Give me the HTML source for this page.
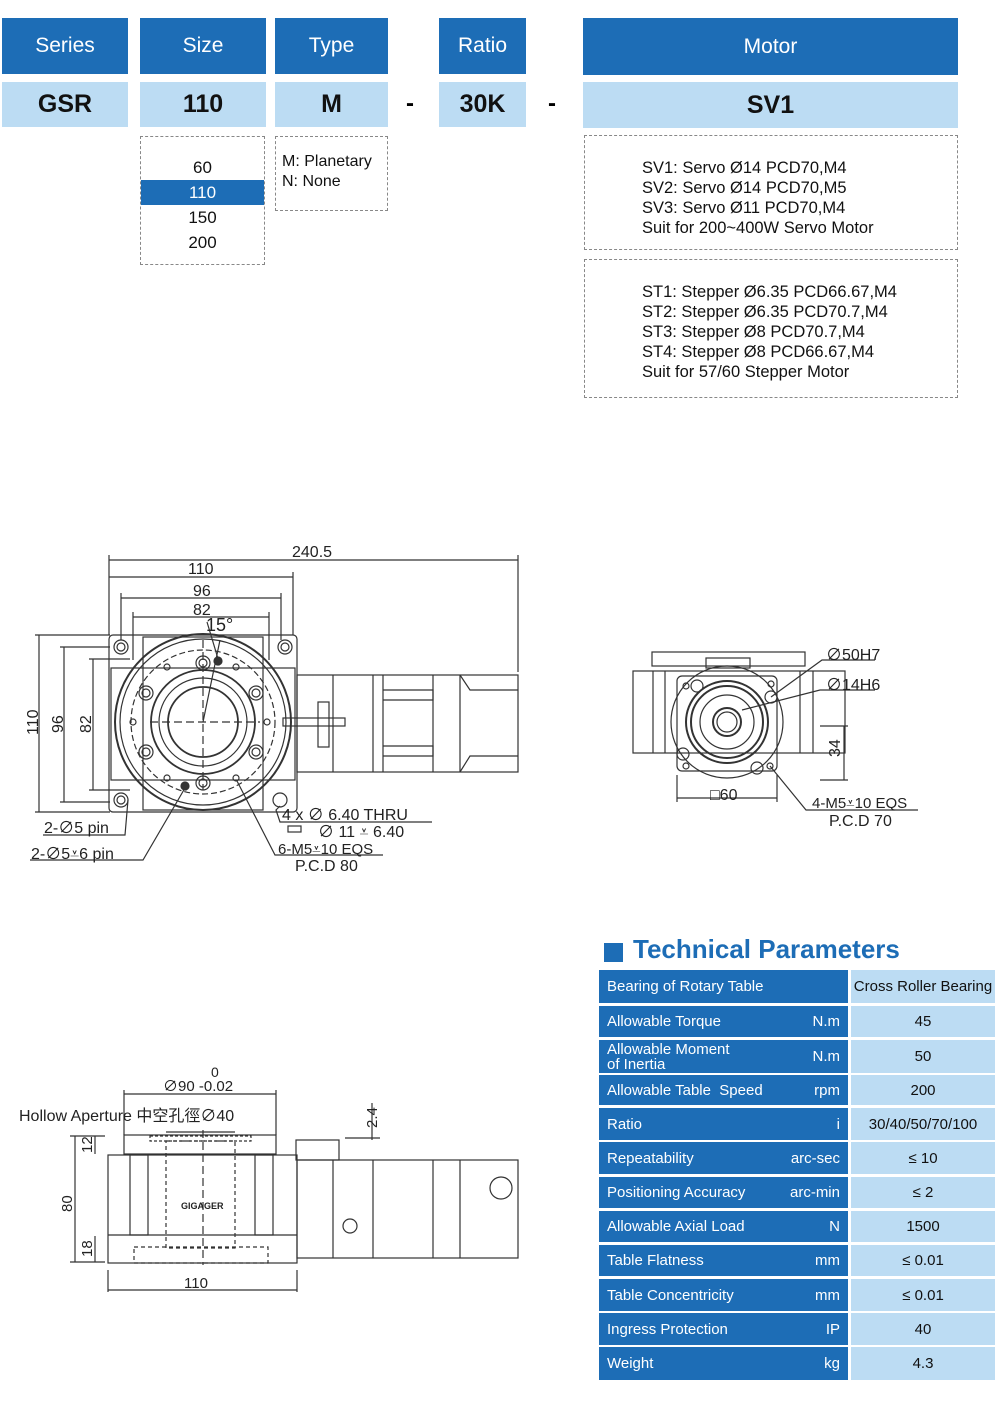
<!DOCTYPE html>
<html><head><meta charset="utf-8"><style>
body{margin:0;width:1000px;height:1406px;background:#fff;position:relative;font-family:"Liberation Sans","Noto Sans CJK SC",sans-serif;overflow:hidden}
.a{position:absolute;box-sizing:border-box}
.d{background:#1d6db6;color:#fff;font-size:21px;display:flex;align-items:center;justify-content:center}
.l{background:#bcdcf3;color:#111;font-size:25px;font-weight:bold;display:flex;align-items:center;justify-content:center}
.db{border:1.5px dashed #888}
.t{font-size:16px;color:#111;line-height:20px}
.r{position:absolute;left:599px;width:249px;background:#1d6db6;color:#fff;font-size:15px;display:flex;align-items:center;padding:0 8px;box-sizing:border-box}
.r span{margin-left:auto}
.v{position:absolute;left:851px;width:144px;background:#bcdcf3;color:#111;font-size:15px;display:flex;align-items:center;justify-content:center}
</style></head><body>
<div class="a d" style="left:2px;top:18px;width:126px;height:56px">Series</div>
<div class="a d" style="left:140px;top:18px;width:126px;height:56px">Size</div>
<div class="a d" style="left:275px;top:18px;width:113px;height:56px">Type</div>
<div class="a d" style="left:439px;top:18px;width:87px;height:56px">Ratio</div>
<div class="a d" style="left:583px;top:18px;width:375px;height:57px">Motor</div>
<div class="a l" style="left:2px;top:82px;width:126px;height:45px">GSR</div>
<div class="a l" style="left:140px;top:82px;width:126px;height:45px">110</div>
<div class="a l" style="left:275px;top:82px;width:113px;height:45px">M</div>
<div class="a l" style="left:439px;top:82px;width:87px;height:45px">30K</div>
<div class="a l" style="left:583px;top:82px;width:375px;height:46px">SV1</div>
<div class="a" style="left:406px;top:90px;font-size:24px;font-weight:bold">-</div>
<div class="a" style="left:548px;top:90px;font-size:24px;font-weight:bold">-</div>

<div class="a db" style="left:140px;top:136px;width:125px;height:129px"></div>
<div class="a t" style="left:140px;top:155px;width:125px;text-align:center;font-size:17px;line-height:25px">60<br><span style="display:block;background:#1d6db6;color:#fff;margin:0 1px">110</span>150<br>200</div>
<div class="a db" style="left:275px;top:136px;width:113px;height:75px"></div>
<div class="a t" style="left:282px;top:152px;font-size:16px">M: Planetary<br>N: None</div>
<div class="a db" style="left:584px;top:135px;width:374px;height:115px"></div>
<div class="a t" style="left:642px;top:158px;font-size:16.5px">SV1: Servo Ø14 PCD70,M4<br>SV2: Servo Ø14 PCD70,M5<br>SV3: Servo Ø11 PCD70,M4<br>Suit for 200~400W Servo Motor</div>
<div class="a db" style="left:584px;top:259px;width:374px;height:139px"></div>
<div class="a t" style="left:642px;top:282px;font-size:16.5px">ST1: Stepper Ø6.35 PCD66.67,M4<br>ST2: Stepper Ø6.35 PCD70.7,M4<br>ST3: Stepper Ø8 PCD70.7,M4<br>ST4: Stepper Ø8 PCD66.67,M4<br>Suit for 57/60 Stepper Motor</div>

<svg class="a" style="left:0;top:0" width="1000" height="1406" font-family="Liberation Sans, Noto Sans CJK SC, sans-serif" fill="none" stroke="#333" stroke-width="1.2">
<!-- plan view -->
<g>
<line x1="109" y1="560" x2="518" y2="560"/><line x1="109" y1="577" x2="293" y2="577"/><line x1="121" y1="598" x2="281" y2="598"/><line x1="133" y1="617" x2="269" y2="617"/>
<line x1="109" y1="555" x2="109" y2="635"/><line x1="518" y1="555" x2="518" y2="672"/><line x1="293" y1="572" x2="293" y2="635"/><line x1="121" y1="593" x2="121" y2="640"/><line x1="281" y1="593" x2="281" y2="640"/><line x1="133" y1="612" x2="133" y2="660"/><line x1="269" y1="612" x2="269" y2="660"/>
<line x1="39" y1="635" x2="39" y2="812"/><line x1="64" y1="647" x2="64" y2="802"/><line x1="93" y1="659" x2="93" y2="790"/>
<line x1="35" y1="635" x2="110" y2="635"/><line x1="35" y1="812" x2="110" y2="812"/><line x1="60" y1="647" x2="110" y2="647"/><line x1="60" y1="802" x2="110" y2="802"/><line x1="89" y1="659" x2="130" y2="659"/><line x1="89" y1="790" x2="130" y2="790"/>
<rect x="109" y="635" width="188" height="177" rx="4"/>
<rect x="143" y="637" width="120" height="173"/>
<rect x="111" y="668" width="184" height="112"/>
<circle cx="203" cy="722" r="88" stroke-width="2"/><circle cx="203" cy="722" r="83"/><circle cx="203" cy="722" r="72" stroke-dasharray="6 3"/>
<circle cx="203" cy="722" r="52" stroke-width="1.8"/><circle cx="203" cy="722" r="44"/><circle cx="203" cy="722" r="35" stroke-width="1.8"/>
<line x1="150" y1="722" x2="260" y2="722" stroke-dasharray="8 4"/><line x1="203" y1="640" x2="203" y2="790" stroke-dasharray="8 4"/>
<g stroke-width="1.2"><circle cx="121" cy="647" r="7"/><circle cx="121" cy="647" r="4"/><circle cx="285" cy="647" r="7"/><circle cx="285" cy="647" r="4"/><circle cx="121" cy="800" r="7"/><circle cx="121" cy="800" r="4"/><circle cx="280" cy="800" r="7"/>
<circle cx="203" cy="663" r="7"/><circle cx="203" cy="663" r="4"/><circle cx="203" cy="783" r="7"/><circle cx="203" cy="783" r="4"/>
<circle cx="146" cy="693" r="7"/><circle cx="146" cy="693" r="4"/><circle cx="256" cy="693" r="7"/><circle cx="256" cy="693" r="4"/><circle cx="146" cy="752" r="7"/><circle cx="146" cy="752" r="4"/><circle cx="256" cy="752" r="7"/><circle cx="256" cy="752" r="4"/>
<circle cx="167" cy="667" r="3"/><circle cx="236" cy="667" r="3"/><circle cx="133" cy="722" r="3"/><circle cx="267" cy="722" r="3"/><circle cx="167" cy="778" r="3"/><circle cx="236" cy="778" r="3"/>
<circle cx="218" cy="661" r="4" fill="#333"/><circle cx="185" cy="786" r="4" fill="#333"/></g>
<rect x="297" y="675" width="221" height="97"/><line x1="333" y1="675" x2="333" y2="772"/><line x1="373" y1="675" x2="373" y2="772"/><line x1="383" y1="675" x2="383" y2="772"/><line x1="433" y1="675" x2="433" y2="772"/><line x1="460" y1="675" x2="460" y2="772"/>
<polyline points="383,690 433,690 433,700 383,700"/><polyline points="383,746 433,746 433,756 383,756"/><polyline points="460,675 470,690 518,690"/><polyline points="460,772 470,756 518,756"/>
<rect x="318" y="702" width="11" height="45"/><rect x="283" y="718" width="62" height="8"/>
<line x1="207" y1="622" x2="219" y2="662"/><line x1="203" y1="722" x2="220" y2="640"/>
<polyline points="280,806 276,810 280,822 432,822"/><polyline points="237,781 275,855 383,855"/><polyline points="185,788 143,860 30,860"/><polyline points="128,800 125,835 43,835"/>
<rect x="288" y="826" width="13" height="6"/>
</g>
<g fill="#222" stroke="none" font-size="16">
<text x="292" y="557">240.5</text><text x="188" y="574">110</text><text x="193" y="596">96</text><text x="193" y="615">82</text><text x="206" y="631" font-size="18">15°</text>
<text transform="translate(63,733) rotate(-90)">96</text><text transform="translate(91,733) rotate(-90)">82</text><text transform="translate(38,735) rotate(-90)">110</text>
<text x="282" y="820">4 x ∅ 6.40 THRU</text><text x="318" y="837">∅ 11 ⩡ 6.40</text><text x="278" y="854" font-size="15">6-M5⩡10 EQS</text><text x="295" y="871">P.C.D 80</text>
<text x="44" y="833">2-∅5 pin</text><text x="31" y="859">2-∅5⩡6 pin</text>
</g>
<!-- side view -->
<g>
<rect x="652" y="652" width="153" height="14"/><rect x="633" y="671" width="212" height="82"/><line x1="653" y1="671" x2="653" y2="753"/><line x1="665" y1="671" x2="665" y2="753"/><line x1="800" y1="671" x2="800" y2="753"/><line x1="813" y1="671" x2="813" y2="753"/>
<rect x="677" y="676" width="100" height="95" rx="5"/><circle cx="727" cy="722" r="56"/><circle cx="727" cy="722" r="41" stroke-width="2"/><circle cx="727" cy="722" r="36" stroke-width="2"/><circle cx="727" cy="722" r="27"/><circle cx="727" cy="722" r="14" stroke-width="2"/><circle cx="727" cy="722" r="10"/>
<circle cx="697" cy="686" r="6"/><circle cx="771" cy="697" r="6"/><circle cx="683" cy="754" r="6"/><circle cx="757" cy="768" r="6"/><circle cx="686" cy="686" r="3"/><circle cx="771" cy="684" r="3"/><circle cx="686" cy="766" r="3"/><circle cx="770" cy="766" r="3"/>
<rect x="706" y="658" width="44" height="10"/>
<line x1="677" y1="775" x2="677" y2="802"/><line x1="777" y1="775" x2="777" y2="802"/><line x1="677" y1="798" x2="777" y2="798"/>
<line x1="844" y1="726" x2="844" y2="780"/><line x1="820" y1="726" x2="848" y2="726"/><line x1="820" y1="780" x2="848" y2="780"/>
<polyline points="771,697 822,660 875,660"/><polyline points="742,710 820,690 875,690"/><polyline points="770,766 806,810 918,810"/>
</g>
<g fill="#222" stroke="none" font-size="16"><text x="826" y="660">∅50H7</text><text x="826" y="690">∅14H6</text><text transform="translate(840,757) rotate(-90)">34</text><text x="710" y="800">□60</text><text x="812" y="808" font-size="15">4-M5⩡10 EQS</text><text x="829" y="826">P.C.D 70</text></g>
<!-- front view -->
<g>
<line x1="124" y1="1094" x2="276" y2="1094"/><line x1="124" y1="1090" x2="124" y2="1135"/><line x1="276" y1="1090" x2="276" y2="1135"/>
<line x1="166" y1="1132" x2="235" y2="1132"/>
<rect x="124" y="1135" width="152" height="19"/><rect x="150" y="1136" width="101" height="5" stroke-dasharray="3 2"/>
<rect x="108" y="1155" width="189" height="108"/><line x1="108" y1="1235" x2="297" y2="1235"/>
<rect x="130" y="1155" width="18" height="80"/><rect x="255" y="1155" width="18" height="80"/>
<rect x="166" y="1141" width="69" height="107" stroke-dasharray="4 3"/><rect x="134" y="1247" width="134" height="16" stroke-dasharray="4 3"/>
<line x1="203" y1="1130" x2="203" y2="1265" stroke-dasharray="8 4"/>
<line x1="75" y1="1136" x2="75" y2="1262"/><line x1="95" y1="1136" x2="95" y2="1154"/><line x1="95" y1="1236" x2="95" y2="1262"/><line x1="70" y1="1136" x2="105" y2="1136"/><line x1="70" y1="1262" x2="105" y2="1262"/>
<line x1="108" y1="1270" x2="108" y2="1292"/><line x1="297" y1="1270" x2="297" y2="1292"/><line x1="108" y1="1290" x2="297" y2="1290"/>
<rect x="297" y="1160" width="221" height="98"/><line x1="333" y1="1160" x2="333" y2="1258"/><line x1="373" y1="1160" x2="373" y2="1258"/><line x1="433" y1="1160" x2="433" y2="1258"/><line x1="460" y1="1160" x2="460" y2="1258"/>
<circle cx="350" cy="1226" r="7"/><circle cx="501" cy="1188" r="11"/><rect x="296" y="1140" width="43" height="20"/>
<line x1="372" y1="1103" x2="372" y2="1140"/><line x1="345" y1="1138" x2="380" y2="1138"/>
</g>
<g fill="#222" stroke="none" font-size="15"><text x="211" y="1077" font-size="14">0</text><text x="163" y="1091">∅90 -0.02</text><text x="19" y="1121" font-size="16">Hollow Aperture 中空孔徑∅40</text>
<text transform="translate(377,1128) rotate(-90)">2.4</text><text transform="translate(92,1153) rotate(-90)">12</text><text transform="translate(72,1212) rotate(-90)">80</text><text transform="translate(92,1257) rotate(-90)">18</text><text x="184" y="1288">110</text>
<text x="181" y="1209" font-size="9" font-weight="bold">GIGAGER</text></g>
</svg>

<div class="a" style="left:604px;top:943px;width:19px;height:19px;background:#1d6db6"></div>
<div class="a" style="left:633px;top:934px;font-size:26px;font-weight:bold;color:#1d6db6">Technical Parameters</div>
<div class="r" style="top:970px;height:33px">Bearing of Rotary Table</div><div class="v" style="top:970px;height:33px">Cross Roller Bearing</div>
<div class="r" style="top:1006px;height:31px">Allowable Torque<span>N.m</span></div><div class="v" style="top:1006px;height:31px">45</div>
<div class="r" style="top:1040px;height:33px;line-height:15px">Allowable Moment<br>of Inertia<span>N.m</span></div><div class="v" style="top:1040px;height:33px">50</div>
<div class="r" style="top:1075px;height:30px">Allowable Table&nbsp; Speed<span>rpm</span></div><div class="v" style="top:1075px;height:30px">200</div>
<div class="r" style="top:1108px;height:32px">Ratio<span>i</span></div><div class="v" style="top:1108px;height:32px">30/40/50/70/100</div>
<div class="r" style="top:1142px;height:32px">Repeatability<span>arc-sec</span></div><div class="v" style="top:1142px;height:32px">≤ 10</div>
<div class="r" style="top:1177px;height:31px">Positioning Accuracy<span>arc-min</span></div><div class="v" style="top:1177px;height:31px">≤ 2</div>
<div class="r" style="top:1211px;height:31px">Allowable Axial Load<span>N</span></div><div class="v" style="top:1211px;height:31px">1500</div>
<div class="r" style="top:1245px;height:31px">Table Flatness<span>mm</span></div><div class="v" style="top:1245px;height:31px">≤ 0.01</div>
<div class="r" style="top:1279px;height:32px">Table Concentricity<span>mm</span></div><div class="v" style="top:1279px;height:32px">≤ 0.01</div>
<div class="r" style="top:1313px;height:32px">Ingress Protection<span>IP</span></div><div class="v" style="top:1313px;height:32px">40</div>
<div class="r" style="top:1347px;height:33px">Weight<span>kg</span></div><div class="v" style="top:1347px;height:33px">4.3</div>
</body></html>
